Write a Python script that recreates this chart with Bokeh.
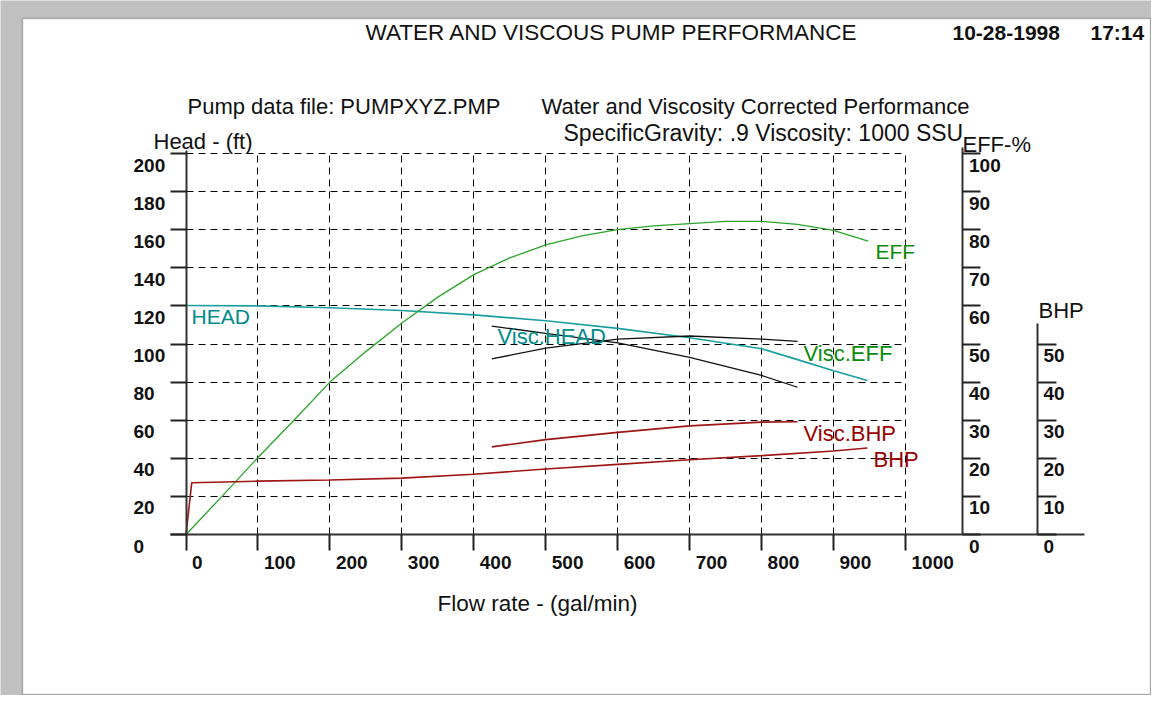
from bokeh.plotting import figure
from bokeh.models import Range1d, LinearAxis, FixedTicker, Grid, Label, BoxAnnotation
from bokeh.embed import file_html
from bokeh.resources import INLINE
from bokeh.core.properties import value

# ---------------- data ----------------
flow_ticks = [0, 100, 200, 300, 400, 500, 600, 700, 800, 900, 1000]
head_ticks = [0, 20, 40, 60, 80, 100, 120, 140, 160, 180, 200]
eff_ticks = [0, 10, 20, 30, 40, 50, 60, 70, 80, 90, 100]
bhp_ticks = [0, 10, 20, 30, 40, 50]

# water performance
head_flow = [0, 100, 200, 300, 400, 500, 600, 700, 800, 850, 900, 947]
head_ft = [120.2, 120.0, 119.0, 117.6, 115.3, 112.2, 108.2, 103.3, 97.5, 91.8, 86.0, 80.8]

eff_flow = [0, 50, 100, 150, 200, 250, 300, 350, 400, 450, 500, 550, 600, 650, 700, 750, 800, 850, 900, 948]
eff_pct = [0, 10.0, 20.2, 30.0, 40.0, 48.0, 55.5, 62.3, 68.2, 72.6, 76.0, 78.4, 80.0, 81.0, 81.6, 82.2, 82.2, 81.4, 79.8, 77.0]

bhp_flow = [0, 8, 100, 200, 300, 400, 500, 600, 700, 800, 900, 947]
bhp_hp = [0, 13.6, 14.0, 14.3, 14.8, 15.8, 17.2, 18.4, 19.6, 20.7, 21.9, 22.7]

# viscosity corrected performance
visc_flow = [425, 500, 600, 700, 800, 850]
visc_head = [109.4, 105.6, 100.6, 93.0, 83.5, 77.3]
visc_eff = [46.1, 48.9, 51.3, 52.1, 51.3, 50.7]
visc_bhp = [23.0, 24.9, 26.8, 28.5, 29.5, 29.6]

# ---------------- geometry (pixels on the picture) ----------------
CANVAS_W, CANVAS_H = 1151, 695
PANEL_L, PANEL_T, PANEL_R, PANEL_B = 22, 18, 1150, 694
X0, XS = 185.5, 0.7195   # x pixel of flow 0 ; px per gal/min
Y0, YS = 534.0, 1.905    # y pixel of head 0 ; px per ft

def fx(px):
    return (px - X0) / XS

def fy(py):
    return (Y0 - py) / YS

TEAL_LINE = "#1a9f9f"
TEAL_TEXT = "#008b8b"
GREEN_LINE = "#2aa52a"
GREEN_TEXT = "#0a8a0a"
RED_LINE = "#9e1515"
RED_TEXT = "#990000"
INK = "#111111"
FONT = "Liberation Sans"

p = figure(width=CANVAS_W, height=CANVAS_H,
           x_range=Range1d(fx(0), fx(CANVAS_W)),
           y_range=Range1d(fy(CANVAS_H), fy(0)),
           x_axis_location=None, y_axis_location=None,
           toolbar_location=None, output_backend="svg",
           min_border=0, min_border_left=0, min_border_right=0,
           min_border_top=0, min_border_bottom=0,
           background_fill_color="#c0c0c0", border_fill_color="#c0c0c0",
           outline_line_color=None)
p.grid.visible = False
p.extra_y_ranges = {
    "eff": Range1d(fy(CANVAS_H) / 2, fy(0) / 2),
    "bhp": Range1d(fy(CANVAS_H) / 2, fy(0) / 2),
}

# white window panel
p.add_layout(BoxAnnotation(left=fx(PANEL_L), right=fx(PANEL_R),
                           top=fy(PANEL_T), bottom=fy(PANEL_B),
                           fill_color="white", fill_alpha=1.0,
                           line_color="#2a2a2a", line_width=1.5, level="image"))

# ---------------- grids ----------------
vgrid = Grid(dimension=0, ticker=FixedTicker(ticks=flow_ticks[1:]),
             cross_bounds=(head_ticks[0], head_ticks[-1]),
             grid_line_color="black", grid_line_width=1, grid_line_dash="7 5")
hgrid = Grid(dimension=1, ticker=FixedTicker(ticks=head_ticks[1:]),
             cross_bounds=(flow_ticks[0], flow_ticks[-1]),
             grid_line_color="black", grid_line_width=1, grid_line_dash="7 5")
p.add_layout(vgrid, "center")
p.add_layout(hgrid, "center")

# ---------------- axes ----------------
def style_axis(ax, tick_out):
    ax.axis_line_color = "#333333"
    ax.axis_line_width = 2
    ax.major_tick_line_color = "#222222"
    ax.major_tick_line_width = 2
    ax.major_tick_in = 0
    ax.major_tick_out = tick_out
    ax.minor_tick_line_color = None
    ax.major_label_text_color = None

EFF_AXIS_X = fx(962)
BHP_AXIS_X = fx(1037)

head_axis = LinearAxis(fixed_location=0, ticker=FixedTicker(ticks=head_ticks),
                       bounds=(0, fy(150)))
style_axis(head_axis, 16)
p.add_layout(head_axis, "left")

flow_axis = LinearAxis(fixed_location=0, ticker=FixedTicker(ticks=flow_ticks),
                       bounds=(fx(170), fx(1084)))
style_axis(flow_axis, 16)
p.add_layout(flow_axis, "below")

eff_axis = LinearAxis(fixed_location=EFF_AXIS_X, y_range_name="eff",
                      ticker=FixedTicker(ticks=eff_ticks), bounds=(0, fy(147) / 2))
style_axis(eff_axis, 18)
p.add_layout(eff_axis, "right")

bhp_axis = LinearAxis(fixed_location=BHP_AXIS_X, y_range_name="bhp",
                      ticker=FixedTicker(ticks=bhp_ticks), bounds=(0, fy(323) / 2))
style_axis(bhp_axis, 19)
p.add_layout(bhp_axis, "right")

# tick labels: left-aligned, hanging just below each tick (as in the original)
def tick_labels(xs, ys, labels, x_off, y_off, y_range_name="default"):
    p.text(x=xs, y=ys, text=labels,
           x_offset=x_off, y_offset=y_off, y_range_name=y_range_name,
           text_align="left", text_baseline="top",
           text_font=value(FONT), text_font_size=value("19px"),
           text_font_style=value("bold"), text_color=INK)

tick_labels([0] * len(head_ticks), head_ticks, [str(v) for v in head_ticks], -52.5, 5)
tick_labels(flow_ticks, [0] * len(flow_ticks), [str(v) for v in flow_ticks], 6, 21)
tick_labels([EFF_AXIS_X] * len(eff_ticks), eff_ticks, [str(v) for v in eff_ticks], 6.5, 5, "eff")
tick_labels([BHP_AXIS_X] * len(bhp_ticks), bhp_ticks, [str(v) for v in bhp_ticks], 6, 5, "bhp")

# ---------------- curves ----------------
p.line(head_flow, head_ft, line_color=TEAL_LINE, line_width=1.6)
p.line(eff_flow, eff_pct, line_color=GREEN_LINE, line_width=1.3, y_range_name="eff")
p.line(bhp_flow, bhp_hp, line_color=RED_LINE, line_width=1.6, y_range_name="bhp")
p.line(visc_flow, visc_head, line_color=INK, line_width=1.3)
p.line(visc_flow, visc_eff, line_color=INK, line_width=1.3, y_range_name="eff")
p.line(visc_flow, visc_bhp, line_color=RED_LINE, line_width=1.6, y_range_name="bhp")

# ---------------- texts ----------------
def add_text(txt, left_px, cy_px, size="22px", color=INK, style="normal"):
    p.add_layout(Label(x=fx(left_px), y=fy(cy_px), text=txt,
                       text_align="left", text_baseline="middle",
                       text_font=FONT, text_font_size=size,
                       text_font_style=style, text_color=color))

add_text("WATER  AND  VISCOUS  PUMP PERFORMANCE", 365, 32, "22.5px")
add_text("10-28-1998", 952, 32, "21px", style="bold")
add_text("17:14", 1090, 32, "21px", style="bold")
add_text("Pump data file:  PUMPXYZ.PMP", 187, 106)
add_text("Water and Viscosity Corrected Performance", 541, 106)
add_text("SpecificGravity:  .9   Viscosity:  1000 SSU", 563, 132, "23px")
add_text("Head -  (ft)", 153, 141)
add_text("EFF-%", 962, 144)
add_text("BHP", 1038, 310)
add_text("Flow rate -  (gal/min)", 437, 603, "22.5px")

add_text("HEAD", 191, 316, "21px", TEAL_TEXT)
add_text("EFF", 875, 251, "21px", GREEN_TEXT)
add_text("Visc.HEAD", 497, 336, "22px", TEAL_TEXT)
add_text("Visc.EFF", 803, 353, "22px", GREEN_TEXT)
add_text("Visc.BHP", 803, 433, "22px", RED_TEXT)
add_text("BHP", 873, 459, "22px", RED_TEXT)

open("out.html", "w").write(file_html(p, INLINE, title="Water and viscous pump performance"))
